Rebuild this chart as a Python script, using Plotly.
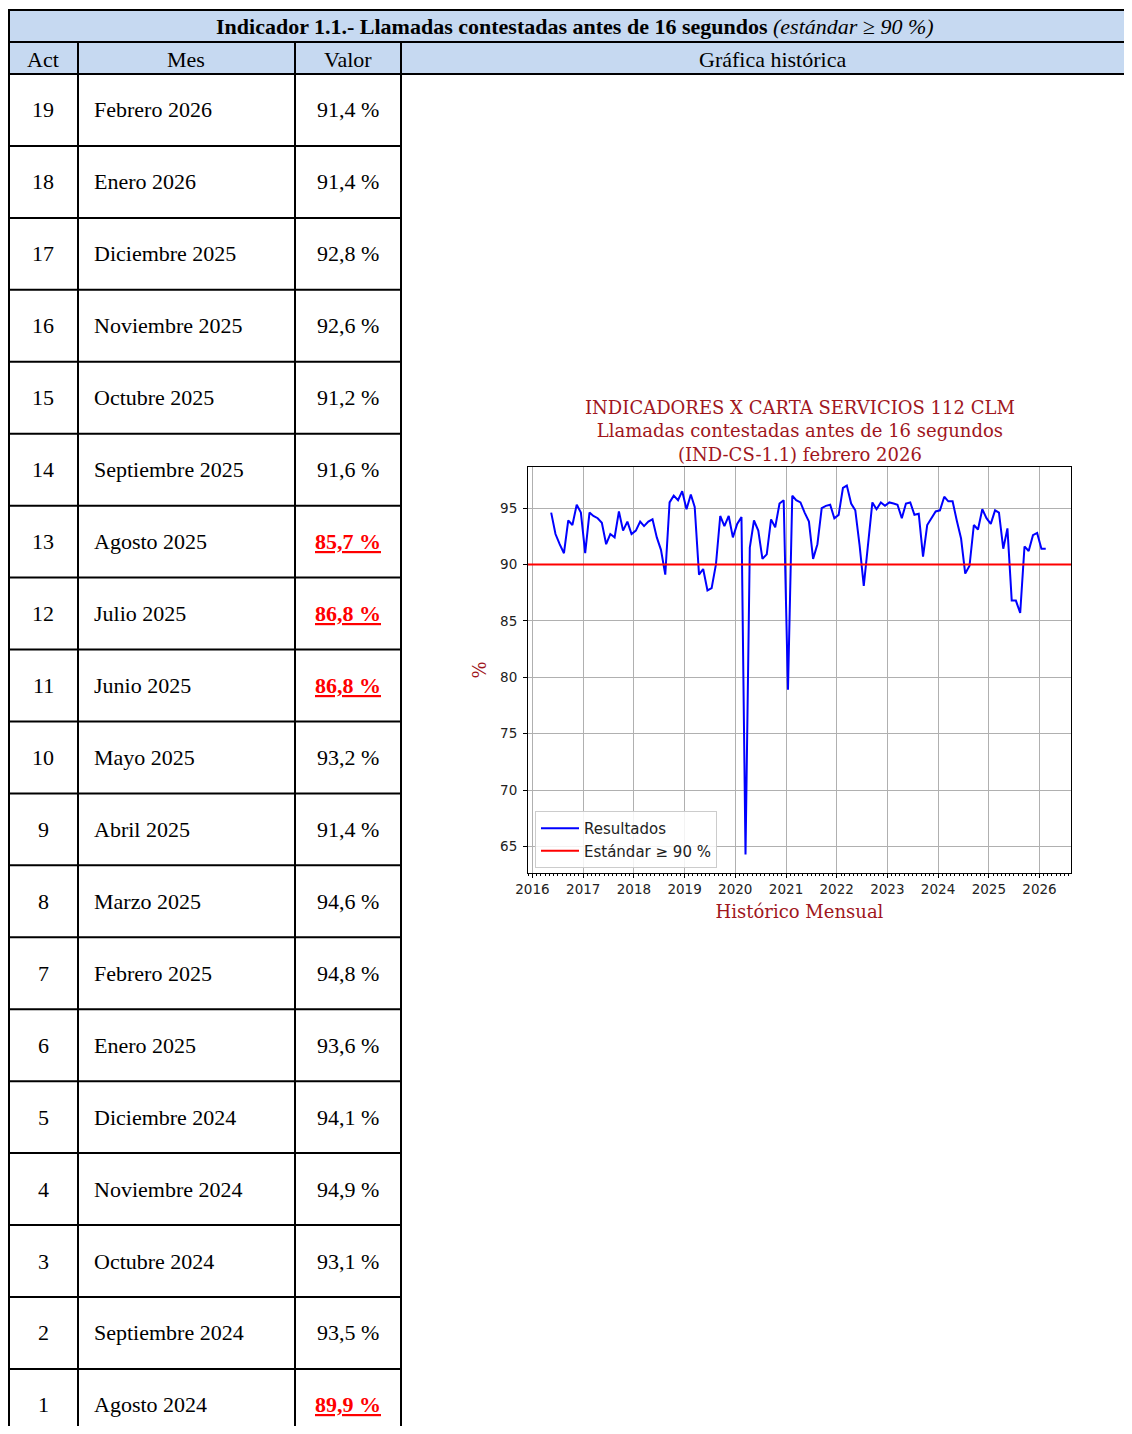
import pandas as pd
import plotly.graph_objects as go

# Tabla: últimos 19 meses (de más reciente a más antiguo)
act_nums = list(range(19, 0, -1))
meses = ["Febrero 2026", "Enero 2026", "Diciembre 2025", "Noviembre 2025",
         "Octubre 2025", "Septiembre 2025", "Agosto 2025", "Julio 2025",
         "Junio 2025", "Mayo 2025", "Abril 2025", "Marzo 2025",
         "Febrero 2025", "Enero 2025", "Diciembre 2024", "Noviembre 2024",
         "Octubre 2024", "Septiembre 2024", "Agosto 2024"]
valores_tabla = [91.4, 91.4, 92.8, 92.6, 91.2, 91.6, 85.7, 86.8, 86.8, 93.2,
                 91.4, 94.6, 94.8, 93.6, 94.1, 94.9, 93.1, 93.5, 89.9]

# Serie histórica mayo 2016 - julio 2024
historico_previo = [
    94.6, 92.7, 91.8, 91.0, 93.9, 93.5, 95.3, 94.6, 91.0, 94.6,
    94.3, 94.1, 93.7, 91.8, 92.7, 92.4, 94.7, 93.0, 93.8, 92.7,
    93.0, 93.8, 93.4, 93.8, 94.0, 92.4, 91.3, 89.1, 95.5, 96.1,
    95.7, 96.5, 94.9, 96.2, 95.1, 89.1, 89.6, 87.7, 87.9, 90.0,
    94.3, 93.4, 94.3, 92.4, 93.6, 94.2, 64.3, 91.5, 93.9, 93.0,
    90.5, 90.9, 94.0, 93.3, 95.4, 95.7, 78.9, 96.1, 95.7, 95.5,
    94.6, 93.8, 90.5, 91.8, 95.0, 95.2, 95.3, 94.1, 94.4, 96.8,
    97.0, 95.4, 94.8, 91.7, 88.1, 92.1, 95.5, 94.9, 95.5, 95.2,
    95.5, 95.4, 95.3, 94.1, 95.4, 95.5, 94.4, 94.5, 90.7, 93.5,
    94.1, 94.7, 94.8, 96.0, 95.6, 95.6, 93.9, 92.3, 89.2,
]
ESTANDAR = 90
INICIO = "2016-05-01"

serie = historico_previo + valores_tabla[::-1]
fechas = pd.date_range(INICIO, periods=len(serie), freq="MS") + pd.Timedelta(days=14)

# la página deja 8 px de margen: la figura empieza en (8, 8)
OFF = 8
W, H = 1116, 1418
ROJO_TIT = "#A0161C"
AZUL_CAB = "#C6D9F1"
SERIF_TAB = "Liberation Serif"


def px(x):
    return (x - OFF) / W


def py(y):
    return 1 - (y - OFF) / H


def nota(fig, x, y, texto, fuente, anchor="center"):
    fig.add_annotation(x=px(x), y=py(y), xref="paper", yref="paper", showarrow=False,
                       xanchor=anchor, yanchor="middle", text=texto, font=fuente)


fig = go.Figure()
fig.add_trace(go.Scatter(x=fechas, y=serie, mode="lines", name="Resultados",
                         line=dict(color="#0000FF", width=2)))
fig.add_trace(go.Scatter(x=[None], y=[None], mode="lines", name="Estándar ≥ 90 %",
                         line=dict(color="#FF0000", width=2)))
fig.add_shape(type="line", xref="x domain", x0=0, x1=1, yref="y",
              y0=ESTANDAR, y1=ESTANDAR, line=dict(color="#FF0000", width=2))

# --- tabla (líneas y fondos) ---
cols = [8, 78, 295, 401, 1140]
y_tit, y_cab, y_dat = 10, 42, 74
alto_fila = 71.94
shapes = [dict(type="rect", x0=px(8), x1=px(1140), y0=py(y_tit), y1=py(y_dat),
               fillcolor=AZUL_CAB, line=dict(width=0), layer="below")]
linea = dict(color="black", width=2)
for yy in (y_tit, y_cab, y_dat):
    shapes.append(dict(type="line", x0=px(8), x1=px(1140), y0=py(yy), y1=py(yy), line=linea))
shapes.append(dict(type="line", x0=px(9), x1=px(9), y0=py(y_tit), y1=0, line=linea))
for xx in cols[1:4]:
    shapes.append(dict(type="line", x0=px(xx), x1=px(xx), y0=py(y_cab), y1=0, line=linea))
for i in range(1, len(meses)):
    yy = y_dat + i * alto_fila
    shapes.append(dict(type="line", x0=px(8), x1=px(401), y0=py(yy), y1=py(yy), line=linea))
for s in shapes:
    fig.add_shape(xref="paper", yref="paper", **s)

# --- textos de la tabla ---
fuente = dict(family=SERIF_TAB, size=22, color="black")
nota(fig, 575, 27, "<b>Indicador 1.1.- Llamadas contestadas antes de 16 segundos</b>"
                   " <i>(estándar ≥ 90 %)</i>", fuente)
for txt, xc in zip(["Act", "Mes", "Valor", "Gráfica histórica"], [43, 186, 348, 772]):
    nota(fig, xc, 59, txt, fuente)
for i, (n, mes, v) in enumerate(zip(act_nums, meses, valores_tabla)):
    yc = y_dat + (i + 0.5) * alto_fila
    nota(fig, 43, yc, str(n), fuente)
    nota(fig, 92, yc, mes, fuente, anchor="left")
    etiqueta = f"{v:.1f}".replace(".", ",") + " %"
    if v < ESTANDAR:
        nota(fig, 348, yc, f"<u><b>{etiqueta}</b></u>",
             dict(family=SERIF_TAB, size=22, color="#FF0000"))
    else:
        nota(fig, 348, yc, etiqueta, fuente)

# --- título de la gráfica ---
nota(fig, 799.5, 431,
     "INDICADORES X CARTA SERVICIOS 112 CLM<br>"
     "Llamadas contestadas antes de 16 segundos<br>"
     "(IND-CS-1.1) febrero 2026",
     dict(family="DejaVu Serif", size=18, color=ROJO_TIT))

tick_font = dict(family="DejaVu Sans", size=13.5, color="#222")
fig.update_xaxes(
    domain=[px(528), px(1071)], automargin=False,
    type="date", range=["2015-11-30", "2026-08-16"],
    dtick="M12", tick0="2016-01-01", tickformat="%Y",
    ticks="outside", ticklen=4, tickcolor="black",
    minor=dict(dtick="M1", ticks="outside", ticklen=2, tickcolor="black", showgrid=False),
    showgrid=True, gridcolor="#b0b0b0", gridwidth=1,
    showline=True, mirror=True, linecolor="black", linewidth=1,
    tickfont=tick_font, zeroline=False,
    title=dict(text="Histórico Mensual", standoff=9,
               font=dict(family="DejaVu Serif", size=18, color=ROJO_TIT)),
)
fig.update_yaxes(
    domain=[py(873), py(467)], automargin=False,
    range=[62.66, 98.64], dtick=5, tick0=0,
    ticks="outside", ticklen=4, tickcolor="black", ticklabelstandoff=3,
    showgrid=True, gridcolor="#b0b0b0", gridwidth=1,
    showline=True, mirror=True, linecolor="black", linewidth=1,
    tickfont=tick_font, zeroline=False,
    title=dict(text="%", standoff=8,
               font=dict(family="DejaVu Serif", size=18, color=ROJO_TIT)),
)

fig.update_layout(
    width=W, height=H,
    margin=dict(l=0, r=0, t=0, b=0, autoexpand=False),
    paper_bgcolor="white", plot_bgcolor="white",
    showlegend=True,
    legend=dict(x=px(535), y=py(868), xanchor="left", yanchor="bottom",
                bgcolor="rgba(255,255,255,0.85)", bordercolor="#cccccc", borderwidth=1,
                font=dict(family="DejaVu Sans", size=15, color="#222"),
                itemwidth=38),
)

fig.write_html("out.html")
